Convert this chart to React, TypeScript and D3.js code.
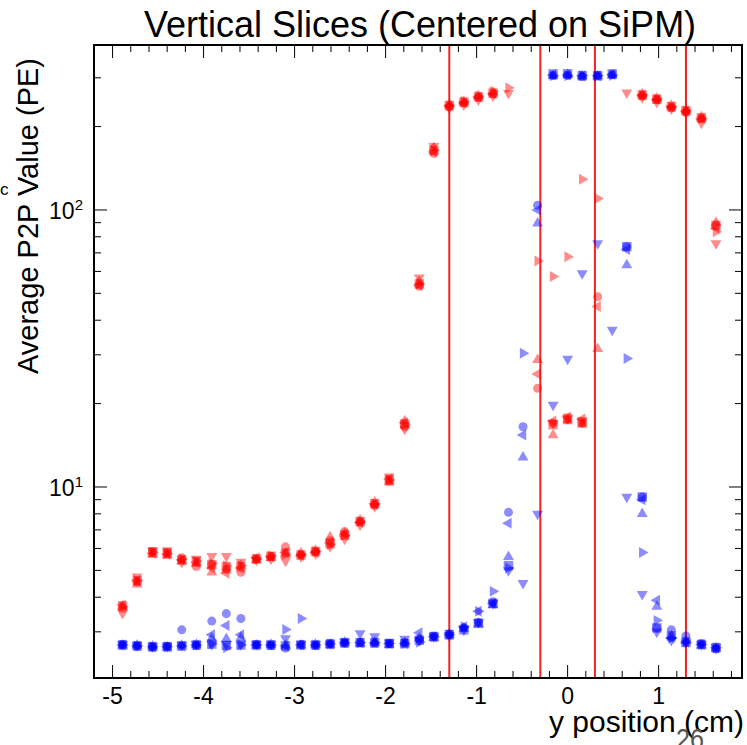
import React from 'react';
import * as d3 from 'd3';

const W = 747;
const H = 745;
const N = null;

// x positions of the slice points (cm)
const xPos = [
  -4.89, -4.73, -4.56, -4.40, -4.24, -4.08, -3.91, -3.75, -3.59, -3.42,
  -3.26, -3.10, -2.93, -2.77, -2.61, -2.45, -2.28, -2.12, -1.96, -1.79,
  -1.63, -1.47, -1.30, -1.14, -0.98, -0.82, -0.65, -0.49, -0.33, -0.16,
  0, 0.16, 0.33, 0.49, 0.65, 0.82, 0.98, 1.14, 1.30, 1.47, 1.63,
];

const redSquare = [
  3.72, 4.59, 5.81, 5.77, 5.45, 5.37, 5.24, 5.16, 5.16, 5.50,
  5.62, 5.77, 5.68, 5.85, 6.24, 6.7, 7.5, 8.7, 10.6, 16.9,
  54.1, 164, 238, 245, 256, 264, N, N, N, 16.8,
  17.7, 17.2, N, N, N, 260, 251, 236, 228, 215, 88,
];
const redCircle = [
  3.65, 4.55, 5.85, 5.8, 5.55, 5.16, 5.24, 5.05, 4.92, 5.5,
  5.62, 6.08, 5.7, 5.85, 6.4, 6.9, 7.5, 8.6, 10.5, 16.5,
  53, 160, 236, 243, 255, 262, N, N, 22.7, 17.0,
  17.5, 17.0, 48.6, N, N, 258, 250, 234, 226, 214, 88,
];
const redUp = [
  3.7, 4.45, 5.7, 5.65, 5.4, 5.3, 4.92, 5.0, 5.2, 5.45,
  5.55, 5.75, 5.77, 5.9, 6.6, 6.8, 7.6, 8.8, 10.4, 17.3,
  55, 168, 240, 246, 258, 266, N, N, 28.8, 15.4,
  17.3, 16.8, 31.5, N, N, 262, 253, 238, 229, 217, 90,
];
const redDown = [
  3.5, 4.75, 5.9, 5.9, 5.35, 5.5, 5.63, 5.63, 5.37, 5.45,
  5.5, 5.41, 5.6, 5.75, 6.1, 6.5, 7.3, 8.5, 10.9, 16.2,
  57, 170, 234, 240, 250, 258, 264, N, N, 17.0,
  17.7, 17.2, N, N, 265, 255, 245, 232, 224, 206, 75.8,
];
const redLeft = [
  3.75, 4.6, 5.75, 5.7, 5.45, 5.35, 5.1, 4.88, 5.1, 5.55,
  5.6, 5.8, 5.65, 5.8, 6.3, 6.75, 7.45, 8.7, 10.7, 17.1,
  53.5, 162, 238, 244, 256, 263, N, N, 25.6, 17.3,
  17.9, 17.6, 44.8, N, N, 260, 251, 236, 227, 214, 86,
];
const redRight = [
  3.7, 4.6, 5.8, 5.75, 5.5, 5.4, 5.3, 5.2, 5.2, 5.5,
  5.65, 5.7, 5.7, 5.85, 6.2, 6.7, 7.5, 8.7, 10.6, 16.8,
  54, 164, 238, 247, 258, 268, 276, N, 65.4, 57.5,
  67.8, 129, 110, N, N, 260, 252, 236, 228, 214, 83.5,
];

const blueSquare = [
  2.69, 2.67, 2.65, 2.65, 2.67, 2.69, 2.71, 2.68, 2.69, 2.69,
  2.69, 2.67, 2.69, 2.69, 2.71, 2.74, 2.74, 2.74, 2.72, 2.72,
  2.8, 2.88, 2.93, 3.05, 3.22, 3.8, 5.2, N, N, 310,
  310, 305, 305, 310, 73.7, 9.2, 3.1, 2.9, 2.75, 2.7, 2.63,
];
const blueCircle = [
  2.7, 2.66, 2.64, 2.66, 3.05, 2.68, 3.28, 3.49, 3.35, 2.7,
  2.68, 2.62, 2.7, 2.68, 2.72, 2.73, 2.75, 2.73, 2.73, 2.74,
  2.82, 2.9, 2.95, 3.1, 3.25, 3.85, 8.1, 16.5, 104, 306,
  306, 303, 306, 308, 73.7, 9.2, 3.1, 3.05, 2.9, 2.72, 2.6,
];
const blueUp = [
  2.68, 2.68, 2.66, 2.64, 2.68, 2.7, 2.84, 2.83, 2.86, 2.68,
  2.7, 2.68, 2.68, 2.7, 2.7, 2.75, 2.72, 2.75, 2.7, 2.73,
  2.84, 2.86, 2.92, 3.08, 3.2, 3.75, 5.6, 12.8, 89.5, 304,
  308, 304, 304, 306, 63.3, 8.0, 3.7, 2.9, 2.78, 2.68, 2.62,
];
const blueDown = [
  2.7, 2.68, 2.66, 2.66, 2.68, 2.7, 2.7, 2.7, 2.7, 2.7,
  2.7, 2.84, 2.7, 2.7, 2.72, 2.76, 2.96, 2.89, 2.74, 2.83,
  2.8, 2.88, 2.92, 3.05, 3.25, 3.8, 5.0, 4.5, 8.0, 19.8,
  29, 59, 75.8, 36.9, 9.2, 4.1, 3.0, 2.8, 2.74, 2.7, 2.63,
];
const blueLeft = [
  2.69, 2.67, 2.65, 2.65, 2.67, 2.69, 2.93, 3.16, 2.93, 2.69,
  2.69, 2.67, 2.69, 2.69, 2.71, 2.74, 2.74, 2.74, 2.72, 2.72,
  2.98, 2.88, 2.93, 3.13, 3.56, 3.8, 7.4, 15.4, 100, 307,
  307, 305, 305, 308, 72, 9.0, 3.9, 2.85, 2.75, 2.7, 2.63,
];
const blueRight = [
  2.69, 2.67, 2.65, 2.65, 2.67, 2.69, 2.71, 2.63, 2.69, 2.69,
  2.69, 3.06, 3.35, 2.69, 2.71, 2.74, 2.74, 2.74, 2.72, 2.72,
  2.75, 2.88, 2.93, 3.13, 3.56, 4.2, 5.1, 30.4, N, 305,
  305, 306, 305, 306, 29.1, 5.8, 3.3, 2.85, 2.75, 2.7, 2.63,
];

const sliceLines = [-1.3, -0.3, 0.3, 1.3];
const xTickLabels = [-5, -4, -3, -2, -1, 0, 1];
const yMajorTicks = [10, 100];
const yMinorTicks = [3, 4, 5, 6, 7, 8, 9, 20, 30, 40, 50, 60, 70, 80, 90, 200, 300];

const RED = '#ff0000';
const BLUE = '#0000ff';

const seriesList = [
  { color: RED, shape: 'square', values: redSquare },
  { color: RED, shape: 'circle', values: redCircle },
  { color: RED, shape: 'up', values: redUp },
  { color: RED, shape: 'down', values: redDown },
  { color: RED, shape: 'left', values: redLeft },
  { color: RED, shape: 'right', values: redRight },
  { color: BLUE, shape: 'square', values: blueSquare },
  { color: BLUE, shape: 'circle', values: blueCircle },
  { color: BLUE, shape: 'up', values: blueUp },
  { color: BLUE, shape: 'down', values: blueDown },
  { color: BLUE, shape: 'left', values: blueLeft },
  { color: BLUE, shape: 'right', values: blueRight },
];

const L = 94, R = 742, T = 45, B = 678;
const FONT = '"Liberation Sans", Arial, Helvetica, sans-serif';

const xScale = d3.scaleLinear().domain([-5.204, 1.916]).range([L, R]);
const yScale = d3.scaleLog().domain([2.044, 394]).range([B, T]);

const squarePath = d3.symbol().type(d3.symbolSquare).size(90)() as string;
const circlePath = d3.symbol().type(d3.symbolCircle).size(64)() as string;
const triPath = d3.symbol().type(d3.symbolTriangle).size(52)() as string;

function markerPath(shape: string) {
  if (shape === 'square') return squarePath;
  if (shape === 'circle') return circlePath;
  return triPath;
}
function markerRot(shape: string) {
  if (shape === 'down') return 180;
  if (shape === 'left') return -90;
  if (shape === 'right') return 90;
  return 0;
}

export default function App() {
  const minorX = d3.range(-26, 10).map((i) => i * 0.2).filter((v) => v > -5.204 && v < 1.916);
  const majorLen = 13;
  const minorLen = 7;
  return (
    <svg
      width={W}
      height={H}
      viewBox={`0 0 ${W} ${H}`}
      style={{ position: 'absolute', left: 0, top: 0, background: '#fff' }}
      fontFamily={FONT}
    >
      <rect x={0} y={0} width={W} height={H} fill="#fff" />
      {/* title */}
      <text x={420} y={37} fontSize={36} textAnchor="middle" fill="#000">
        Vertical Slices (Centered on SiPM)
      </text>

      {/* slice lines */}
      {sliceLines.map((v) => (
        <line key={'sl' + v} x1={xScale(v)} x2={xScale(v)} y1={T} y2={B} stroke="#f22222" strokeWidth={2} />
      ))}

      {/* markers */}
      {seriesList.map((s, si) => (
        <g key={'s' + si} fill={s.color} fillOpacity={0.45}>
          {s.values.map((v, i) =>
            v == null ? null : (
              <path
                key={i}
                d={markerPath(s.shape)}
                transform={`translate(${xScale(xPos[i])},${yScale(v)}) rotate(${markerRot(s.shape)})`}
              />
            )
          )}
        </g>
      ))}

      {/* x ticks bottom/top */}
      {minorX.map((v, i) => {
        const isMajor = Math.abs(v - Math.round(v)) < 1e-6;
        const len = isMajor ? majorLen : minorLen;
        const x = xScale(v);
        return (
          <g key={'xt' + i} stroke="#000" strokeWidth={1}>
            <line x1={x} x2={x} y1={B} y2={B - len} />
            <line x1={x} x2={x} y1={T} y2={T + len} />
          </g>
        );
      })}
      {xTickLabels.map((v) => (
        <text key={'xl' + v} x={xScale(v)} y={704} fontSize={23} textAnchor="middle" fill="#000">
          {v}
        </text>
      ))}

      {/* y ticks left/right */}
      {yMajorTicks.map((v) => (
        <g key={'ym' + v} stroke="#000" strokeWidth={1}>
          <line x1={L} x2={L + majorLen} y1={yScale(v)} y2={yScale(v)} />
          <line x1={R} x2={R - majorLen} y1={yScale(v)} y2={yScale(v)} />
        </g>
      ))}
      {yMinorTicks.map((v) => (
        <g key={'yn' + v} stroke="#000" strokeWidth={1}>
          <line x1={L} x2={L + minorLen} y1={yScale(v)} y2={yScale(v)} />
          <line x1={R} x2={R - minorLen} y1={yScale(v)} y2={yScale(v)} />
        </g>
      ))}
      {yMajorTicks.map((v) => (
        <text key={'yl' + v} x={83} y={yScale(v) + 9} fontSize={23} textAnchor="end" fill="#000">
          10
          <tspan dy={-9} fontSize={15}>
            {Math.round(Math.log10(v))}
          </tspan>
        </text>
      ))}

      {/* frame */}
      <rect x={L} y={T} width={R - L} height={B - T} fill="none" stroke="#000" strokeWidth={2} />

      {/* axis titles */}
      <text
        transform={`translate(38,58) rotate(-90)`}
        fontSize={29}
        textAnchor="end"
        fill="#000"
      >
        Average P2P Value (PE)
      </text>
      <text x={0} y={195} fontSize={17} fill="#000">
        c
      </text>
      <text x={744} y={732} fontSize={30} textAnchor="end" fill="#000">
        y position (cm)
      </text>
      <text x={690} y={749} fontSize={30} textAnchor="middle" fill="#555" textLength={28} lengthAdjust="spacingAndGlyphs">
        26
      </text>
    </svg>
  );
}
